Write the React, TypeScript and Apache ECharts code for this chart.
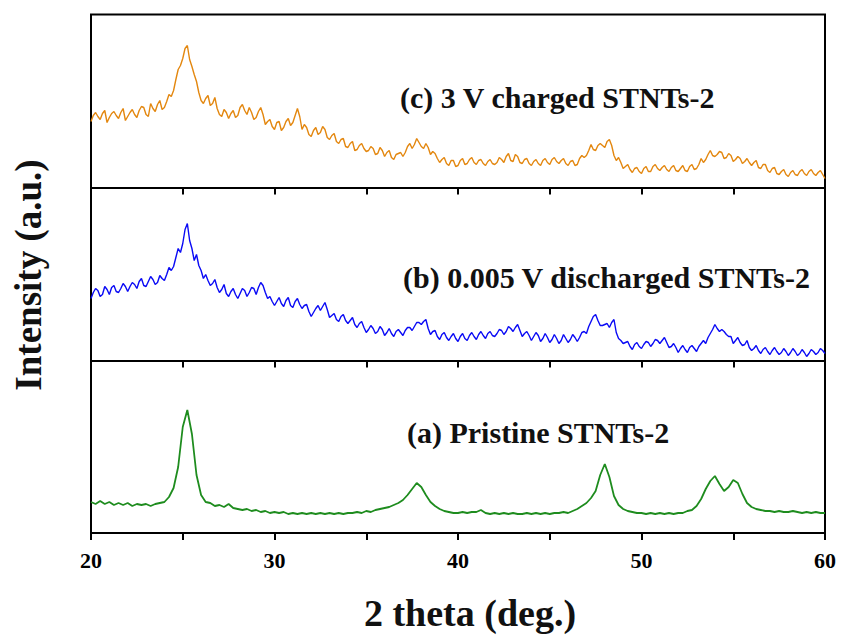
import React, { useEffect, useRef } from "react";
import * as echarts from "echarts";

// 2θ sampling grids (deg)
const thetaStart = 20;
const fineStep = 0.125; // for the noisy traces (b), (c)
const fineCount = 321;
const coarseStep = 0.25; // for the pristine trace (a)
const coarseCount = 161;
const xTicks = [20, 30, 40, 50, 60];

// (c) 3 V charged STNTs-2 (a.u.) — readings at 20.00, 20.25, ... 60.00
const charged = [
  66, 75, 68, 77, 70, 76, 69, 79, 71, 78, 70, 81, 73, 84, 76, 87,
  80, 93, 97, 118, 129, 142, 121, 106, 87, 89, 82, 90, 73, 78, 69, 77,
  72, 83, 73, 75, 70, 80, 63, 68, 58, 66, 60, 69, 65, 79, 58, 60,
  51, 60, 55, 58, 48, 54, 44, 49, 40, 46, 38, 44, 36, 41, 33, 40,
  31, 37, 28, 34, 31, 41, 39, 49, 41, 44, 33, 34, 25, 30, 22, 27,
  22, 29, 24, 30, 23, 28, 22, 28, 23, 30, 25, 34, 26, 31, 24, 29,
  22, 28, 22, 29, 23, 30, 24, 29, 22, 27, 23, 32, 32, 43, 37, 44,
  40, 48, 32, 30, 19, 23, 15, 20, 14, 21, 16, 23, 17, 22, 16, 22,
  16, 22, 16, 23, 19, 29, 28, 37, 31, 36, 29, 34, 26, 31, 24, 29,
  22, 27, 19, 23, 15, 20, 13, 18, 11, 17, 12, 18, 12, 18, 12, 17,
  9,
];
// (c) readings at 20.125, 20.375, ... 59.875
const chargedMid = [
  72, 71, 74, 65, 74, 72, 75, 67,
  75, 73, 77, 80, 71, 79, 83, 78,
  86, 91, 108, 122, 139, 128, 113, 95,
  84, 92, 84, 79, 71, 75, 74, 70,
  80, 77, 80, 68, 76, 73, 66, 61,
  65, 57, 66, 62, 72, 71, 63, 53,
  57, 53, 61, 50, 52, 46, 48, 41,
  44, 37, 42, 39, 37, 39, 34, 37,
  35, 30, 33, 35, 35, 44, 43, 45,
  39, 40, 36, 29, 28, 24, 27, 21,
  27, 23, 28, 25, 27, 24, 26, 24,
  25, 28, 31, 27, 33, 25, 28, 24,
  26, 24, 27, 25, 28, 26, 27, 24,
  26, 22, 29, 30, 37, 38, 42, 42,
  46, 42, 27, 25, 21, 18, 19, 16,
  19, 16, 21, 19, 20, 18, 20, 17,
  19, 17, 21, 18, 23, 25, 33, 32,
  33, 35, 30, 32, 28, 29, 26, 25,
  25, 20, 23, 17, 19, 14, 16, 13,
  15, 13, 16, 14, 16, 14, 15, 13,
];

// (b) 0.005 V discharged STNTs-2 (a.u.) — readings at 20.00, 20.25, ... 60.00
const discharged = [
  62, 72, 64, 74, 66, 75, 68, 77, 69, 78, 72, 82, 74, 84, 76, 85,
  80, 93, 94, 112, 117, 137, 112, 106, 90, 86, 75, 81, 68, 76, 64, 72,
  62, 72, 64, 73, 66, 78, 68, 64, 55, 63, 54, 63, 53, 62, 52, 56,
  44, 52, 50, 58, 43, 47, 39, 46, 37, 43, 33, 39, 28, 35, 27, 34,
  25, 32, 24, 31, 25, 33, 30, 38, 36, 41, 26, 30, 21, 28, 20, 27,
  19, 27, 20, 28, 21, 29, 22, 29, 24, 31, 26, 34, 29, 36, 24, 29,
  20, 28, 19, 27, 18, 26, 17, 26, 18, 26, 19, 28, 27, 39, 46, 35,
  36, 33, 41, 22, 17, 19, 11, 18, 12, 19, 14, 21, 17, 23, 13, 17,
  8, 15, 8, 15, 9, 17, 17, 27, 36, 29, 29, 24, 17, 23, 15, 20,
  10, 15, 7, 13, 6, 13, 6, 12, 5, 12, 5, 11, 4, 11, 6, 12,
  7,
];
// (b) readings at 20.125, 20.375, ... 59.875
const dischargedMid = [
  68, 70, 66, 71, 73, 69, 72, 74,
  74, 76, 79, 75, 79, 81, 78, 82,
  86, 90, 103, 108, 131, 120, 100, 95,
  82, 80, 77, 73, 71, 67, 69, 66,
  67, 70, 68, 72, 73, 75, 62, 59,
  59, 57, 60, 55, 59, 56, 55, 49,
  48, 55, 54, 51, 45, 41, 44, 40,
  40, 36, 37, 33, 31, 32, 29, 31,
  28, 27, 29, 28, 30, 33, 34, 38,
  39, 32, 29, 24, 26, 23, 24, 22,
  24, 22, 25, 24, 26, 25, 27, 25,
  27, 30, 29, 32, 33, 30, 27, 25,
  24, 25, 22, 23, 21, 22, 20, 22,
  21, 23, 23, 29, 34, 44, 40, 35,
  37, 38, 28, 20, 18, 14, 16, 14,
  16, 18, 17, 20, 20, 18, 14, 13,
  12, 11, 13, 12, 14, 20, 23, 31,
  32, 31, 26, 24, 20, 18, 16, 13,
  12, 10, 11, 9, 10, 9, 8, 9,
  8, 9, 7, 8, 7, 9, 8, 10,
];

// (a) Pristine STNTs-2 (a.u.) — readings at 20.00, 20.25, ... 60.00
const pristine = [
  31, 29, 32, 29, 31, 28, 30, 28, 30, 27, 29, 28, 29, 27, 29, 30,
  31, 36, 45, 66, 106, 123, 99, 58, 38, 31, 30, 27, 28, 26, 29, 25,
  24, 23, 24, 22, 23, 21, 22, 20, 21, 20, 21, 19, 20, 19, 20, 19,
  20, 19, 20, 19, 20, 19, 20, 19, 20, 20, 21, 20, 22, 21, 23, 24,
  25, 26, 28, 30, 33, 38, 44, 50, 46, 38, 31, 27, 24, 22, 21, 20,
  20, 21, 20, 21, 21, 23, 20, 19, 20, 19, 20, 19, 20, 19, 19, 20,
  19, 20, 19, 20, 19, 20, 20, 21, 20, 22, 24, 27, 30, 35, 42, 58,
  69, 56, 37, 28, 24, 22, 21, 20, 20, 19, 20, 19, 20, 19, 20, 19,
  20, 20, 22, 23, 27, 34, 44, 52, 57, 49, 42, 46, 53, 50, 39, 30,
  26, 24, 23, 22, 22, 21, 22, 21, 21, 22, 21, 20, 21, 20, 21, 20,
  20,
];

const panelLabels = [
  "(c) 3 V charged STNTs-2",
  "(b) 0.005 V discharged STNTs-2",
  "(a) Pristine STNTs-2",
];
const xTitle = "2 theta (deg.)";
const yTitle = "Intensity (a.u.)";

const colors = ["#E3870F", "#0A0AF5", "#1E8C1E"];
const FONT = "'Times New Roman', 'Liberation Serif', 'DejaVu Serif', serif";

function interleave(main: number[], mid: number[]) {
  const out: number[] = [];
  for (let i = 0; i < main.length; i++) {
    out.push(main[i]);
    if (i < mid.length) out.push(mid[i]);
  }
  return out;
}

export default function App() {
  const ref = useRef<HTMLDivElement>(null);

  useEffect(() => {
    document.body.style.margin = "0";
    if (!ref.current) return;
    const chart = echarts.init(ref.current, undefined, { renderer: "svg" });

    const fineTheta = Array.from({ length: fineCount }, (_, i) => thetaStart + i * fineStep);
    const coarseTheta = Array.from({ length: coarseCount }, (_, i) => thetaStart + i * coarseStep);

    const traces = [
      { theta: fineTheta, vals: interleave(charged, chargedMid) },
      { theta: fineTheta, vals: interleave(discharged, dischargedMid) },
      { theta: coarseTheta, vals: pristine },
    ];

    const tops = [14.5, 187.5, 360.5];
    const heights = [173, 173, 172.5];

    const grids = tops.map((t, i) => ({
      left: 91,
      right: 16,
      top: t,
      height: heights[i],
      show: false,
    }));

    const xAxes = tops.map((_, i) => ({
      type: "value",
      gridIndex: i,
      min: 20,
      max: 60,
      interval: 5,
      axisLine: { show: true, lineStyle: { color: "#000", width: 2 } },
      axisTick: { show: true, length: 7, lineStyle: { color: "#000", width: 2 } },
      splitLine: { show: false },
      axisLabel: {
        show: i === 2,
        margin: 16,
        color: "#000",
        fontSize: 22,
        fontWeight: "bold",
        fontFamily: FONT,
        formatter: (v: number) => (xTicks.includes(v) ? String(v) : ""),
      },
    }));

    const yAxes = tops.map((_, i) => ({
      type: "value",
      gridIndex: i,
      min: 0,
      max: heights[i],
      show: false,
    }));

    const series = traces.map((tr, i) => ({
      type: "line",
      xAxisIndex: i,
      yAxisIndex: i,
      data: tr.theta.map((t, j) => [t, tr.vals[j]]),
      showSymbol: false,
      symbol: "none",
      lineStyle: { color: colors[i], width: i === 2 ? 1.8 : 1.4 },
      silent: true,
    }));

    chart.setOption({
      animation: false,
      backgroundColor: "#fff",
      grid: grids,
      xAxis: xAxes,
      yAxis: yAxes,
      series,
    });

    const labelPos = [
      { x: 400, y: 97 },
      { x: 403, y: 277 },
      { x: 407, y: 432 },
    ];

    const graphic: any[] = [
      {
        type: "rect",
        shape: { x: 91, y: 14.5, width: 734, height: 518.5 },
        style: { fill: "none", stroke: "#000", lineWidth: 2 },
        silent: true,
      },
    ];
    panelLabels.forEach((txt, i) =>
      graphic.push({
        type: "text",
        x: labelPos[i].x,
        y: labelPos[i].y,
        style: {
          text: txt,
          font: `bold 30px ${FONT}`,
          fill: "#111",
          textAlign: "left",
          textVerticalAlign: "middle",
        },
      })
    );
    graphic.push({
      type: "text",
      x: 470,
      y: 613,
      style: {
        text: xTitle,
        font: `bold 38px ${FONT}`,
        fill: "#111",
        textAlign: "center",
        textVerticalAlign: "middle",
      },
    });
    graphic.push({
      type: "text",
      x: 28,
      y: 275,
      rotation: Math.PI / 2,
      style: {
        text: yTitle,
        font: `bold 37px ${FONT}`,
        fill: "#111",
        textAlign: "center",
        textVerticalAlign: "middle",
      },
    });

    chart.setOption({ graphic });

    return () => chart.dispose();
  }, []);

  return <div ref={ref} style={{ width: 841, height: 637 }} />;
}
